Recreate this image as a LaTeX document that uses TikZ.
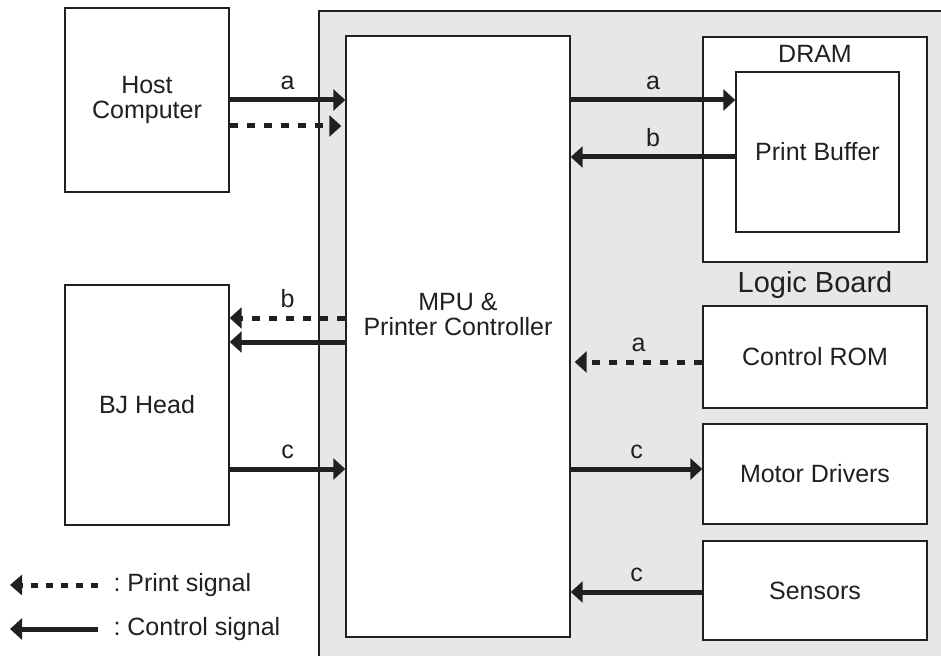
\documentclass[tikz,border=0pt]{standalone}
\usepackage{fontspec}
\setmainfont{Liberation Sans}
\usepackage{xcolor}
\definecolor{board}{RGB}{230,231,232}
\definecolor{ink}{RGB}{35,31,32}
\usetikzlibrary{arrows.meta}

\begin{document}
\begin{tikzpicture}[x=1pt, y=-1pt,
			box/.style={draw=ink, line width=1.4pt, fill=white, inner sep=0pt},
			ctrl/.style={draw=ink, line width=5pt, -{Triangle[length=12pt,width=21pt]}},
			prnt/.style={ctrl, dash pattern=on 8pt off 9pt},
			lbl/.style={midway, above=4pt, text=ink},
			]
			\tikzset{every node/.append style={font=\fontsize{25}{28}\selectfont, text=ink, align=center}}
			\useasboundingbox (0,0) rectangle (941,655);
			% logic board
			\fill[board] (319,11) rectangle (960,680);
			\draw[ink, line width=1.6pt] (319,680) -- (319,11) -- (960,11);
			\node at (815,285) {\fontsize{29}{32}\selectfont Logic Board};
			% blocks
			\node[box, minimum width=164pt, minimum height=184pt] (host) at (147,100) {Host\\[-3pt]Computer};
			\node[box, minimum width=164pt, minimum height=240pt] (bj) at (147,405) {BJ Head};
			\node[box, minimum width=224pt, minimum height=601pt] (mpu) at (458,336.5) {};
			\node (mputxt) at (458,314) {MPU \&\\[-3pt]Printer Controller};
			\node[box, minimum width=224pt, minimum height=225pt] (dram) at (815,149.5) {};
			\node (dramtxt) at (815,54) {DRAM};
			\node[box, minimum width=163pt, minimum height=160pt] (buf) at (817.5,152) {Print Buffer};
			\node[box, minimum width=224pt, minimum height=102pt] (rom) at (815,357) {Control ROM};
			\node[box, minimum width=224pt, minimum height=100pt] (motor) at (815,474) {Motor Drivers};
			\node[box, minimum width=224pt, minimum height=99pt] (sens) at (815,590.5) {Sensors};
			% signals
			\draw[ctrl] (host.east |- 0,100) -- (mpu.west |- 0,100) node[lbl] {a};
			\draw[prnt] (host.east |- 0,126) -- ([xshift=-4pt]mpu.west |- 0,126);
			\draw[prnt] (mpu.west |- 0,318) -- (bj.east |- 0,318) node[lbl] {b};
			\draw[ctrl] (mpu.west |- 0,342) -- (bj.east |- 0,342);
			\draw[ctrl] (bj.east |- 0,469) -- (mpu.west |- 0,469) node[lbl] {c};
			\draw[ctrl] (mpu.east |- 0,100) -- (buf.west |- 0,100) node[lbl] {a};
			\draw[ctrl] (buf.west |- 0,157) -- (mpu.east |- 0,157) node[lbl] {b};
			\draw[prnt] (rom.west |- 0,362) -- ([xshift=4pt]mpu.east |- 0,362) node[lbl] {a};
			\draw[ctrl] (mpu.east |- 0,469) -- (motor.west |- 0,469) node[lbl] {c};
			\draw[ctrl] (sens.west |- 0,592) -- (mpu.east |- 0,592) node[lbl] {c};
			% legend
			\coordinate (ptail) at (98,585);
			\coordinate (ctail) at (98,629);
			\coordinate (phead) at (10,585);
			\coordinate (chead) at (10,629);
			\draw[prnt, dash pattern=on 7pt off 8pt, -{Triangle[length=12pt,width=20pt]}] (ptail) -- (phead);
			\draw[ctrl] (ctail) -- (chead);
			\node[anchor=west] (ptext) at (110,585) {:\;Print signal};
			\node[anchor=west] (ctext) at (110,629) {:\;Control signal};
		\end{tikzpicture}
\end{document}
